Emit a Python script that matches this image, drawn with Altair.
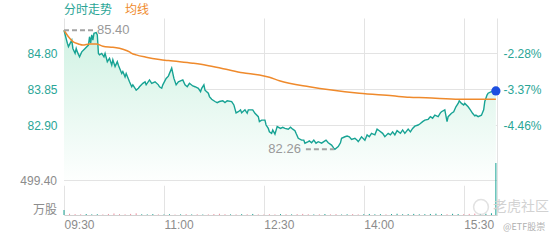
import altair as alt
import pandas as pd
import numpy as np

# ---------------- data ----------------
price_min = [0,3,4,7,8,10,11,12,14,16,
             19,22,23,24,25,26,27,29,30,31,
             32,34,36,37,39,41,43,44,46,48,
             49,52,53,55,56,59,61,62,64,65,
             67,68,71,73,74,77,79,82,85,86,
             88,89,92,94,97,99,101,103,107,109,
             111,113,116,118,121,123,124,126,127,130,
             131,133,136,138,140,143,145,147,151,153,
             155,157,159,160,163,165,166,170,172,175,
             176,178,181,182,184,185,187,188,190,192,
             195,197,199,202,204,206,208,209,211,214,
             216,217,220,221,223,225,227,229,232,234,
             236,238,241,243,244,247,249,250,253,255,
             257,259,262,264,265,266,268,271,273,275,
             277,280,282,284,287,289,292,294,296,298,
             300,303,305,307,310,312,314,316,319,321,
             323,325,328,330,332,334,337,339,340,343,
             345,346,349,351,353,355,356,358,360,361,
             364,366,368,370,371,373,376,378,379,381,
             382,385,387,389]
price_val = [85.40,85.06,84.97,85.14,84.92,84.79,84.92,84.83,84.70,84.83,
             84.92,85.01,85.23,85.06,85.28,85.14,85.32,85.34,85.28,84.79,
             84.75,84.79,84.70,84.79,84.57,84.66,84.48,84.62,84.44,84.57,
             84.48,84.26,84.31,84.17,84.26,84.04,83.91,83.96,83.87,83.82,
             83.87,83.91,84.00,84.04,83.96,84.09,84.00,84.04,83.96,83.91,
             83.87,83.96,84.13,84.19,84.40,84.13,83.96,84.04,84.09,83.96,
             83.91,84.00,83.93,83.91,83.87,83.78,83.87,83.96,83.82,83.74,
             83.65,83.58,83.52,83.49,83.52,83.54,83.49,83.54,83.52,83.43,
             83.22,83.25,83.30,83.22,83.30,83.21,83.30,83.30,83.21,83.12,
             82.99,83.03,83.03,82.90,82.81,82.72,82.68,82.77,82.66,82.86,
             82.81,82.84,82.81,82.79,82.84,82.79,82.75,82.68,82.55,82.50,
             82.50,82.42,82.46,82.48,82.43,82.50,82.42,82.46,82.42,82.46,
             82.50,82.43,82.37,82.29,82.26,82.33,82.43,82.55,82.59,82.61,
             82.59,82.52,82.55,82.50,82.46,82.50,82.59,82.50,82.64,82.59,
             82.68,82.64,82.79,82.75,82.68,82.59,82.68,82.64,82.72,82.64,
             82.75,82.68,82.77,82.68,82.79,82.72,82.81,82.87,82.90,82.94,
             82.99,83.03,83.05,83.12,83.08,83.16,83.12,83.22,83.25,83.30,
             82.99,83.12,83.21,83.25,83.38,83.47,83.54,83.47,83.43,83.47,
             83.38,83.30,83.21,83.14,83.16,83.12,83.16,83.30,83.52,83.69,
             83.74,83.78,83.81,83.80]

avg_min = [0,4,8,13,17,23,29,35,44,53,
           59,61,65,74,86,94,116,128,146,161,
           176,185,194,221,266,296,311,326,356,389]
avg_val = [85.40,85.23,85.10,85.04,85.01,85.04,85.04,84.98,84.95,84.90,
           84.83,84.79,84.75,84.69,84.63,84.60,84.53,84.48,84.37,84.28,
           84.22,84.16,84.07,83.91,83.74,83.67,83.63,83.62,83.58,83.58]

vol_min = list(range(0, 390, 5)) + [389]
vol_val = [72,18,12,10,14,9,11,8,15,22,
           12,9,16,24,10,8,13,9,7,11,
           6,9,12,8,10,7,9,14,18,11,
           9,8,12,10,15,9,7,11,8,13,
           10,9,12,16,11,8,10,14,9,12,
           7,10,13,9,11,15,10,12,9,14,
           18,11,13,16,10,12,15,19,13,11,
           17,14,12,16,20,15,18,25,
           753]

price_ticks = [84.80, 83.85, 82.90]
pct_labels = ["-2.28%", "-3.37%", "-4.46%"]
time_ticks = [0, 90, 180, 270, 360]
time_labels = ["09:30", "11:00", "12:30", "14:00", "15:30"]
vol_tick = 499.40
area_base = 81.30

assert len(price_min) == len(price_val)
assert len(avg_min) == len(avg_val)
assert len(vol_min) == len(vol_val)

# ---------------- styles ----------------
TEAL = "#17a394"
LABEL_TEAL = "#2aa596"
ORANGE = "#ef8a2c"
GRID = "#e3e3e3"
GRAY = "#8c8c8c"
FONT = "Liberation Sans"
CJK = "Noto Sans CJK SC"

W, H = 433, 197
price_scale = alt.Scale(domain=[80.525, 85.724], nice=False, zero=False)
vol_scale = alt.Scale(domain=[0, 2852], nice=False, zero=False)
x_scale = alt.Scale(domain=[0, 390], nice=False, zero=False)

x_expr = " : ".join(
    f"datum.value == {t} ? '{l}'" for t, l in zip(time_ticks, time_labels)
) + " : ''"
x_axis = alt.Axis(values=time_ticks + [390], labelExpr=x_expr, grid=True,
                  gridColor=GRID, domainColor="#d0d0d0", ticks=False,
                  labelAlign="left", labelColor=GRAY, labelFont=FONT,
                  labelFontSize=12, labelPadding=4, title=None)
price_axis = alt.Axis(values=price_ticks, format=".2f", grid=True,
                      gridColor=GRID, domain=False, ticks=False,
                      labelColor=LABEL_TEAL, labelFont=FONT, labelFontSize=12,
                      labelPadding=7, title=None)
pct_expr = " : ".join(
    f"abs(datum.value - {v}) < 0.01 ? '{l}'" for v, l in zip(price_ticks, pct_labels)
) + " : ''"
pct_axis = alt.Axis(orient="right", values=price_ticks, labelExpr=pct_expr,
                    grid=False, domain=False, ticks=False,
                    labelColor=LABEL_TEAL, labelFont=FONT, labelFontSize=12,
                    labelPadding=6, title=None)

X = alt.X("t:Q", scale=x_scale, axis=x_axis)


def PY(field):
    return alt.Y(field, scale=price_scale, axis=price_axis)


price_df = pd.DataFrame({"t": price_min, "price": price_val})
avg_df = pd.DataFrame({"t": avg_min, "price": avg_val})
interp = np.interp(vol_min, price_min, price_val)
dirs = ["up" if i == 0 or interp[i] >= interp[i - 1] else "down"
        for i in range(len(vol_min))]
vol_df = pd.DataFrame({"t": vol_min, "vol": vol_val, "dir": dirs})

imax = int(np.argmax(price_val))
imin = int(np.argmin(price_val))
max_df = pd.DataFrame({"t": [price_min[imax]], "price": [price_val[imax]],
                       "label": [f"{price_val[imax]:.2f}"]})
min_df = pd.DataFrame({"t": [price_min[imin]], "price": [price_val[imin]],
                       "label": [f"{price_val[imin]:.2f}"]})
last_df = price_df.tail(1)

# ---------------- price layers ----------------
area = alt.Chart(price_df).mark_area(
    strokeWidth=0,
    color=alt.Gradient(gradient="linear",
                       stops=[alt.GradientStop(color="#d0f2e3", offset=0),
                              alt.GradientStop(color="#ffffff", offset=1)],
                       x1=1, x2=1, y1=0, y2=1)
).encode(x=X, y=PY("price:Q"), y2=alt.datum(area_base))

line = alt.Chart(price_df).mark_line(color=TEAL, strokeWidth=1.4).encode(
    x=X, y=PY("price:Q"))
avg = alt.Chart(avg_df).mark_line(color=ORANGE, strokeWidth=1.5,
                                  interpolate="monotone").encode(
    x=X, y=PY("price:Q"))

max_rule = alt.Chart(max_df).mark_rule(color="#a3a3a3", strokeWidth=2,
                                       strokeDash=[5, 3], x2Offset=30).encode(
    x=X, x2="t:Q", y=PY("price:Q"))
max_text = alt.Chart(max_df).mark_text(align="left", dx=33, fontSize=13,
                                       font=FONT, color="#999999").encode(
    x=X, y=PY("price:Q"), text="label:N")
min_rule = alt.Chart(min_df).mark_rule(color="#a3a3a3", strokeWidth=2,
                                       strokeDash=[5, 3], xOffset=-29,
                                       x2Offset=-1).encode(
    x=X, x2="t:Q", y=PY("price:Q"))
min_text = alt.Chart(min_df).mark_text(align="right", dx=-34, fontSize=13,
                                       font=FONT, color="#999999").encode(
    x=X, y=PY("price:Q"), text="label:N")
dot = alt.Chart(last_df).mark_circle(size=85, color="#1d4fe0", opacity=1).encode(
    x=X, y=PY("price:Q"))

price_group = alt.layer(area, line, avg, max_rule, max_text, min_rule,
                        min_text, dot)
pct_layer = alt.Chart(price_df).mark_line(opacity=0).encode(
    x=X, y=alt.Y("price:Q", scale=price_scale, axis=pct_axis))
mid = alt.layer(price_group, pct_layer).resolve_scale(y="independent")

# ---------------- volume layers ----------------
VY = lambda f: alt.Y(f, scale=vol_scale, axis=None)
vol_grid_df = pd.DataFrame({"v": [vol_tick], "label": [f"{vol_tick:.2f}"]})
vol_grid = alt.Chart(vol_grid_df).mark_rule(color=GRID).encode(y=VY("v:Q"))
vol_label = alt.Chart(vol_grid_df).mark_text(align="right", baseline="middle",
                                             fontSize=12, font=FONT,
                                             color=GRAY).encode(
    x=alt.value(-7), y=VY("v:Q"), text="label:N")
unit_label = alt.Chart(pd.DataFrame({"v": [0], "label": ["万股"]})).mark_text(
    align="right", baseline="middle", dy=-5, fontSize=12, font=CJK,
    color=GRAY).encode(x=alt.value(-7), y=VY("v:Q"), text="label:N")
bars = alt.Chart(vol_df).mark_rule(strokeWidth=1).encode(
    x=X, y=VY("vol:Q"), y2=alt.datum(0),
    color=alt.Color("dir:N", scale=alt.Scale(domain=["up", "down"],
                                             range=[TEAL, "#ef8fa0"]),
                    legend=None))
vol_group = alt.layer(vol_grid, bars, vol_label, unit_label)

# ---------------- titles / watermark ----------------
def txt(s, x, y, color, size, font=CJK):
    return alt.Chart(pd.DataFrame({"s": [s]})).mark_text(
        align="left", baseline="middle", fontSize=size, font=font,
        color=color).encode(x=alt.value(x), y=alt.value(y), text="s:N")

title1 = txt("分时走势", 0, -8, LABEL_TEAL, 12)
title2 = txt("均线", 61, -8, ORANGE, 12)
wm1 = txt("老虎社区", 429, 189, "#d2d2d2", 14)
wm2 = txt("@ETF股崇", 439, 209, "#b0b0b0", 9)
wm_icon = alt.Chart(pd.DataFrame({"s": [1]})).mark_point(
    shape="circle", filled=False, size=220, color="#d6d6d6",
    strokeWidth=1.5).encode(x=alt.value(417), y=alt.value(189))

chart = alt.layer(mid, vol_group, title1, title2, wm_icon, wm1, wm2).resolve_scale(
    y="independent"
).properties(
    width=W, height=H,
    autosize=alt.AutoSizeParams(type="none"),
    padding={"left": 64, "top": 18, "right": 63, "bottom": 25},
).configure_view(stroke=None)

chart.save("out.html", embed_options={"renderer": "svg", "actions": False})
